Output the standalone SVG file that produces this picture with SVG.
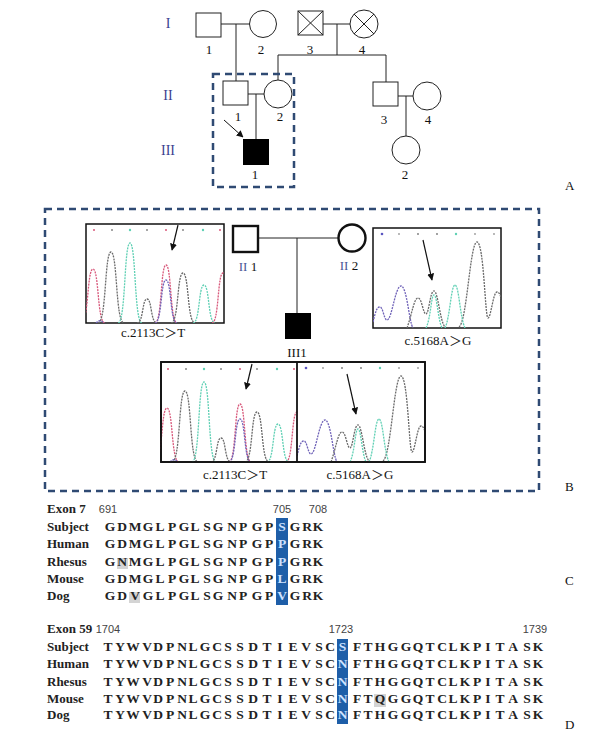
<svg xmlns="http://www.w3.org/2000/svg" width="603" height="731" viewBox="0 0 603 731">
<style>
.sym{fill:#fff;stroke:#222;stroke-width:1}
.symb{fill:#fff;stroke:#111;stroke-width:2.4}
.ln{fill:none;stroke:#222;stroke-width:1}
.dash{fill:none;stroke:#2f4a73;stroke-width:2.5;stroke-dasharray:7 5}
.t{font-family:"Liberation Serif","Times New Roman",serif;font-size:13px;fill:#111}
.c{text-anchor:middle}
.rom{fill:#3a3f8f;font-size:14px}
.lbl{font-family:"Liberation Serif","Noto Sans CJK SC",serif;font-size:13px;fill:#111;text-anchor:middle}
.seq{font-family:"Liberation Serif","Times New Roman",serif;font-size:13.5px;font-weight:bold;fill:#222;text-anchor:middle}
.num{font-family:"Liberation Sans",Arial,sans-serif;font-size:11px;fill:#444;text-anchor:middle}
.hdr{font-family:"Liberation Serif","Times New Roman",serif;font-size:13px;font-weight:bold;fill:#222}
.box{fill:#fff;stroke:#111;stroke-width:1.5}
.pk{fill:none;stroke-width:1.3;stroke-dasharray:2 1}
.r{stroke:#d8577a}.g{stroke:#6a6a6a}.tl{stroke:#5fd0b4}.p{stroke:#6f62b8}
.hl{fill:#1e5ea8}
.gr{fill:#d4d4d4}
</style>
<defs>
<marker id="ah" viewBox="0 0 10 10" refX="9" refY="5" markerWidth="7" markerHeight="7" orient="auto" markerUnits="userSpaceOnUse">
<path d="M0,0 L10,5 L0,10 z" fill="#111"/>
</marker>
<clipPath id="c1"><rect x="86" y="224" width="138" height="99"/></clipPath>
<clipPath id="c2"><rect x="373" y="228" width="128" height="100"/></clipPath>
<g id="chromA">
<g clip-path="url(#c1)">
<path class="pk r" d="M81,323 C88.8,323 87,269 93,269 C99,269 97.2,323 105,323"/>
<path class="pk g" d="M98,323 C106.5,323 104.5,252 111,252 C117.5,252 115.5,323 124,323"/>
<path class="pk tl" d="M118,323 C125.8,323 124,243 130,243 C136,243 134.2,323 142,323"/>
<path class="pk g" d="M137,323 C143.5,323 142,299 147,299 C152,299 150.5,323 157,323"/>
<path class="pk r" d="M155,323 C162,323 160.5,265 166,265 C171.5,265 170,323 177,323"/>
<path class="pk p" d="M155,323 C162,323 160.5,280 166,280 C171.5,280 170,323 177,323"/>
<path class="pk g" d="M171,323 C178.8,323 177,273 183,273 C189,273 187.2,323 195,323"/>
<path class="pk tl" d="M193,323 C200,323 198.5,285 204,285 C209.5,285 208,323 215,323"/>
<path class="pk r" d="M212,323 C219,323 217.5,273 223,273 C228.5,273 227,323 234,323"/>
<path class="pk p" d="M96,323 C99,320 101,320 104,323"/>
</g>
<g>
<circle cx="94" cy="230" r="1" fill="#d8577a"/><circle cx="112" cy="230" r="1" fill="#888"/>
<circle cx="130" cy="230" r="1.2" fill="#5fd0b4"/><circle cx="147" cy="230" r="1" fill="#888"/>
<circle cx="166" cy="230" r="1" fill="#d8577a"/><circle cx="183" cy="230" r="1" fill="#888"/>
<circle cx="203" cy="230" r="1.2" fill="#5fd0b4"/><circle cx="220" cy="230" r="1" fill="#d8577a"/>
</g>
<line x1="178" y1="225" x2="172" y2="250" stroke="#111" stroke-width="1.2" marker-end="url(#ah)"/>
</g>
<g id="chromB">
<g clip-path="url(#c2)">
<path class="pk p" d="M373,322 C376,310 377,307 380,307 C383,307 384,320 387,320 C392,320 395,286 401,286 C407,286 409,322 413,328"/>
<path class="pk g" d="M407,328 C412,314 414,298 418,298 C422,298 423,314 426,314 C429,314 430,291 434,291 C438,291 440,322 445,327"/>
<path class="pk g" d="M459,327 C467,322 470,242 477,242 C484,242 485,318 488,318 C491,318 493,292 497,292 C500,292 501,298 503,304"/>
<path class="pk tl" d="M426,328 C431,318 431,295 434,295 C437,295 438,320 442,328"/>
<path class="pk tl" d="M445,328 C450,318 451,285 455,285 C459,285 460,318 465,328"/>
</g>
<g>
<circle cx="382" cy="234" r="1.3" fill="#5a55c0"/><circle cx="399" cy="234" r="0.9" fill="#999"/>
<circle cx="418" cy="234" r="0.9" fill="#777"/><circle cx="437" cy="234" r="0.9" fill="#777"/>
<circle cx="456" cy="234" r="1.2" fill="#5fd0b4"/><circle cx="475" cy="234" r="0.9" fill="#999"/>
<circle cx="494" cy="234" r="0.9" fill="#999"/>
</g>
<line x1="423" y1="240" x2="432" y2="280" stroke="#111" stroke-width="1.2" marker-end="url(#ah)"/>
</g>
</defs>

<!-- Panel A: pedigree -->
<g id="connectors">
<line class="ln" x1="221" y1="24" x2="250" y2="24"/>
<line class="ln" x1="236" y1="24" x2="236" y2="81"/>
<line class="ln" x1="323" y1="24" x2="350" y2="24"/>
<line class="ln" x1="337" y1="24" x2="337" y2="55"/>
<line class="ln" x1="278" y1="55" x2="386" y2="55"/>
<line class="ln" x1="278" y1="55" x2="278" y2="80"/>
<line class="ln" x1="386" y1="55" x2="386" y2="82"/>
<line class="ln" x1="248" y1="94" x2="264" y2="94"/>
<line class="ln" x1="256" y1="94" x2="256" y2="139"/>
<line class="ln" x1="398" y1="96" x2="413" y2="96"/>
<line class="ln" x1="406" y1="96" x2="406" y2="136"/>
<line x1="224" y1="120" x2="243" y2="137" stroke="#111" stroke-width="1" marker-end="url(#ah)"/>
<line class="ln" x1="258" y1="238" x2="338" y2="238" stroke-width="1.2"/>
<line class="ln" x1="297" y1="238" x2="297" y2="313" stroke-width="1.2"/>
</g>

<g id="gen-labels">
<text class="t c rom" x="168" y="28">I</text>
<text class="t c rom" x="168" y="100">II</text>
<text class="t c rom" x="168" y="155">III</text>
</g>

<g id="I1"><rect class="sym" x="196" y="13" width="25" height="24"/><text class="t c" x="209" y="54">1</text></g>
<g id="I2"><circle class="sym" cx="263" cy="24" r="13.5"/><text class="t c" x="261" y="54">2</text></g>
<g id="I3"><rect class="sym" x="298" y="11" width="25" height="24"/><path class="ln" d="M298,11 L323,35 M323,11 L298,35"/><text class="t c" x="310" y="54">3</text></g>
<g id="I4"><circle class="sym" cx="364" cy="24" r="14"/><path class="ln" d="M354,14 L374,34 M374,14 L354,34"/><text class="t c" x="362" y="54">4</text></g>
<g id="II1"><rect class="sym" x="223" y="81" width="25" height="24"/><text class="t c" x="238" y="121" fill="#8a2a2a">1</text></g>
<g id="II2"><circle class="sym" cx="278" cy="94" r="14"/><text class="t c" x="280" y="121">2</text></g>
<g id="II3"><rect class="sym" x="373" y="82" width="25" height="24"/><text class="t c" x="384" y="124">3</text></g>
<g id="II4"><circle class="sym" cx="427" cy="96" r="14"/><text class="t c" x="428" y="124">4</text></g>
<g id="III1"><rect x="243" y="139" width="26" height="26" fill="#000"/><text class="t c" x="255" y="179">1</text></g>
<g id="III2"><circle class="sym" cx="406" cy="150" r="14"/><text class="t c" x="405" y="179">2</text></g>
<rect class="dash" x="213" y="74" width="81" height="113"/>
<text class="t" x="565" y="190">A</text>

<!-- Panel B -->
<rect class="dash" x="45" y="209" width="494" height="282"/>
<g id="B-chrom1">
<rect class="box" x="86" y="224" width="138" height="99"/>
<use href="#chromA"/>
<text class="lbl" x="153" y="337">c.2113C＞T</text>
</g>
<g id="B-II1"><rect class="symb" x="233" y="226" width="25" height="26"/><text class="lbl" x="248" y="271"><tspan fill="#4a5596">II</tspan> 1</text></g>
<g id="B-II2"><circle class="symb" cx="352" cy="238" r="13.5"/><text class="lbl" x="349" y="270"><tspan fill="#4a5596">II</tspan> 2</text></g>
<g id="B-III1"><rect x="285" y="313" width="26" height="26" fill="#000"/><text class="lbl" x="297" y="357">III1</text></g>
<g id="B-chrom2">
<rect class="box" x="373" y="228" width="128" height="100"/>
<use href="#chromB"/>
<text class="lbl" x="438" y="345">c.5168A＞G</text>
</g>
<g id="B-chrom3">
<rect class="box" x="161" y="362" width="264" height="100"/>
<use href="#chromA" transform="translate(74,139)"/>
<use href="#chromB" transform="translate(-76,134)"/>
<rect x="161" y="362" width="264" height="100" fill="none" stroke="#111" stroke-width="1.8"/>
<line x1="297" y1="362" x2="297" y2="462" stroke="#111" stroke-width="1.8"/>
<text class="lbl" x="235" y="479">c.2113C＞T</text>
<text class="lbl" x="360" y="479">c.5168A＞G</text>
</g>
<text class="t" x="565" y="491">B</text>

<!-- Panel C -->
<g id="panelC">
<rect class="hl" x="276" y="518" width="12" height="87"/>
<rect class="gr" x="117" y="558" width="11" height="11"/>
<rect class="gr" x="129" y="592" width="11" height="11"/>
<text class="hdr" x="47" y="513">Exon 7</text>
<text class="num" x="108" y="513">691</text>
<text class="num" x="282" y="513">705</text>
<text class="num" x="318" y="513">708</text>
<text class="hdr" x="47" y="531">Subject</text>
<text class="hdr" x="47" y="548">Human</text>
<text class="hdr" x="47" y="566">Rhesus</text>
<text class="hdr" x="47" y="583">Mouse</text>
<text class="hdr" x="47" y="600">Dog</text>
<text class="seq" y="531" x="110 116 122 128 135 141 148 154 160 166 172 178 184 190 195 201 207 213 218 225 232 238 243 250 257 263 269 275 282 288 295 301 307 312 318">G D M G L P G L S G N P G P <tspan fill="#cfe2ff">S</tspan> G R K</text>
<text class="seq" y="548" x="110 116 122 128 135 141 148 154 160 166 172 178 184 190 195 201 207 213 218 225 232 238 243 250 257 263 269 275 282 288 295 301 307 312 318">G D M G L P G L S G N P G P <tspan fill="#cfe2ff">P</tspan> G R K</text>
<text class="seq" y="566" x="110 116 122 128 135 141 148 154 160 166 172 178 184 190 195 201 207 213 218 225 232 238 243 250 257 263 269 275 282 288 295 301 307 312 318">G N M G L P G L S G N P G P <tspan fill="#cfe2ff">P</tspan> G R K</text>
<text class="seq" y="583" x="110 116 122 128 135 141 148 154 160 166 172 178 184 190 195 201 207 213 218 225 232 238 243 250 257 263 269 275 282 288 295 301 307 312 318">G D M G L P G L S G N P G P <tspan fill="#cfe2ff">L</tspan> G R K</text>
<text class="seq" y="600" x="110 116 122 128 135 141 148 154 160 166 172 178 184 190 195 201 207 213 218 225 232 238 243 250 257 263 269 275 282 288 295 301 307 312 318">G D V G L P G L S G N P G P <tspan fill="#cfe2ff">V</tspan> G R K</text>
<text class="t" x="565" y="585">C</text>
</g>

<!-- Panel D -->
<g id="panelD">
<rect class="hl" x="337" y="639" width="11" height="85"/>
<rect class="gr" x="374" y="694" width="12" height="13"/>
<text class="hdr" x="47" y="633">Exon 59</text>
<text class="num" x="108" y="633">1704</text>
<text class="num" x="341" y="633">1723</text>
<text class="num" x="535" y="633">1739</text>
<text class="hdr" x="47" y="651">Subject</text>
<text class="hdr" x="47" y="668">Human</text>
<text class="hdr" x="47" y="686">Rhesus</text>
<text class="hdr" x="47" y="703">Mouse</text>
<text class="hdr" x="47" y="719">Dog</text>
<text class="seq" y="651" x="108 114 120 126 133 140 147 152 158 164 170 176 182 188 193 199 205 211 217 222 228 234 240 246 253 260 267 273 280 286 293 300 306 312 319 325 330 336 342.5 350 357 362 368 374 380 386 393 400 406 412 418 424 430 436 442 448 453 459 465 471 477 482 488 494 500 506 513 520 527 532 538">T Y W V D P N L G C S S D T I E V S C <tspan fill="#cfe2ff">S</tspan> F T H G G Q T C L K P I T A S K</text>
<text class="seq" y="668" x="108 114 120 126 133 140 147 152 158 164 170 176 182 188 193 199 205 211 217 222 228 234 240 246 253 260 267 273 280 286 293 300 306 312 319 325 330 336 342.5 350 357 362 368 374 380 386 393 400 406 412 418 424 430 436 442 448 453 459 465 471 477 482 488 494 500 506 513 520 527 532 538">T Y W V D P N L G C S S D T I E V S C <tspan fill="#cfe2ff">N</tspan> F T H G G Q T C L K P I T A S K</text>
<text class="seq" y="686" x="108 114 120 126 133 140 147 152 158 164 170 176 182 188 193 199 205 211 217 222 228 234 240 246 253 260 267 273 280 286 293 300 306 312 319 325 330 336 342.5 350 357 362 368 374 380 386 393 400 406 412 418 424 430 436 442 448 453 459 465 471 477 482 488 494 500 506 513 520 527 532 538">T Y W V D P N L G C S S D T I E V S C <tspan fill="#cfe2ff">N</tspan> F T H G G Q T C L K P I T A S K</text>
<text class="seq" y="703" x="108 114 120 126 133 140 147 152 158 164 170 176 182 188 193 199 205 211 217 222 228 234 240 246 253 260 267 273 280 286 293 300 306 312 319 325 330 336 342.5 350 357 362 368 374 380 386 393 400 406 412 418 424 430 436 442 448 453 459 465 471 477 482 488 494 500 506 513 520 527 532 538">T Y W V D P N L G C S S D T I E V S C <tspan fill="#cfe2ff">N</tspan> F T Q G G Q T C L K P I T A S K</text>
<text class="seq" y="719" x="108 114 120 126 133 140 147 152 158 164 170 176 182 188 193 199 205 211 217 222 228 234 240 246 253 260 267 273 280 286 293 300 306 312 319 325 330 336 342.5 350 357 362 368 374 380 386 393 400 406 412 418 424 430 436 442 448 453 459 465 471 477 482 488 494 500 506 513 520 527 532 538">T Y W V D P N L G C S S D T I E V S C <tspan fill="#cfe2ff">N</tspan> F T H G G Q T C L K P I T A S K</text>
<text class="t" x="565" y="729">D</text>
</g>
</svg>
